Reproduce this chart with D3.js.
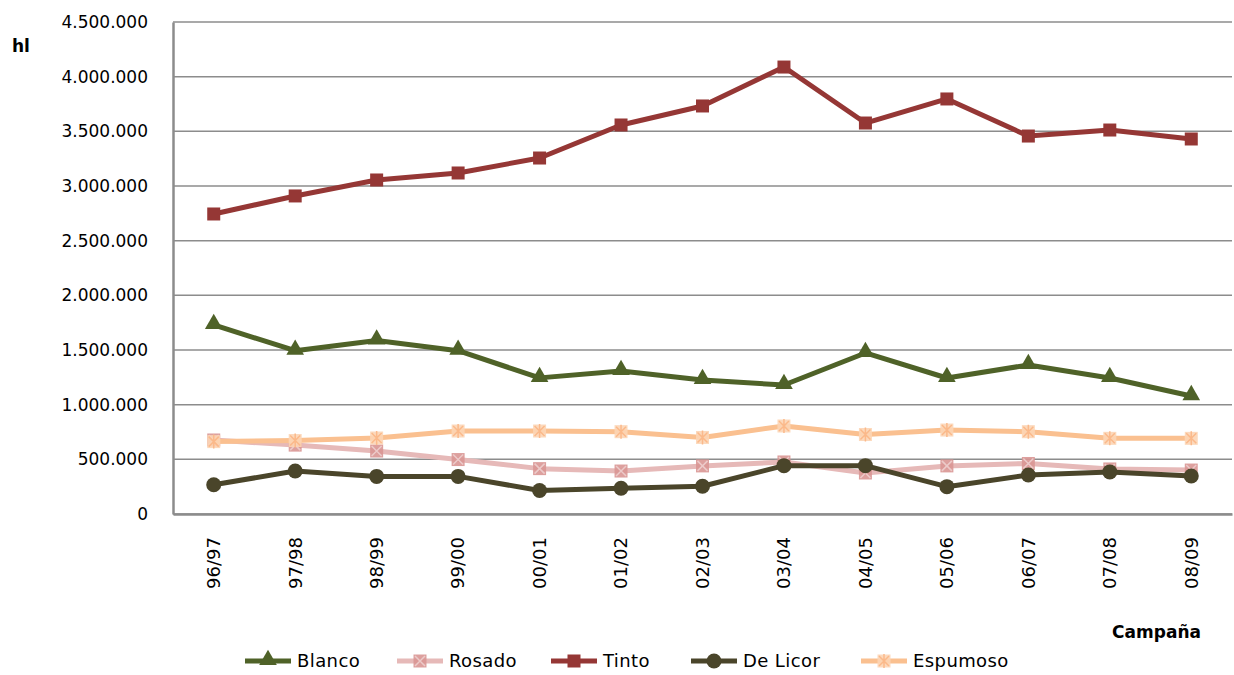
<!DOCTYPE html>
<meta charset="utf-8">
<style>
body{ margin:0; background:#fff; font-family:"DejaVu Sans", Verdana, sans-serif; }
.grid line{ stroke:#8c8c8c; stroke-width:1.5; }
.tick text{ font-size:17px; fill:#000; font-family:"DejaVu Sans", Verdana, sans-serif; }
</style>
<div id="chart"></div>
<script src="https://cdn.jsdelivr.net/npm/d3@7"></script>
<script>

var campaigns = ['96/97','97/98','98/99','99/00','00/01','01/02','02/03','03/04','04/05','05/06','06/07','07/08','08/09']
var blanco   = [1729000,1494000,1587000,1494000,1245000,1308000,1226000,1180000,1473000,1244000,1363000,1244000,1079000]
var rosado   = [677000,630000,576000,498000,415000,393000,440000,476000,375000,440000,462000,412000,402000]
var tinto    = [2744000,2909000,3055000,3119000,3256000,3558000,3732000,4088000,3576000,3796000,3457000,3512000,3430000]
var deLicor  = [268000,393000,344000,344000,215000,235000,254000,442000,442000,250000,357000,385000,348000]
var espumoso = [662000,672000,695000,759000,759000,753000,700000,805000,727000,768000,753000,692000,692000]
var yTicks = [0,500000,1000000,1500000,2000000,2500000,3000000,3500000,4000000,4500000]

var series = [
  {name:'Blanco',   values:blanco,   line:'#4f6228', marker:'triangle'},
  {name:'Rosado',   values:rosado,   line:'#e6b9b8', marker:'sqx', fill:'#d99694'},
  {name:'Tinto',    values:tinto,    line:'#953735', marker:'square'},
  {name:'De Licor', values:deLicor,  line:'#4a452a', marker:'circle'},
  {name:'Espumoso', values:espumoso, line:'#fac090', marker:'star', fill:'#fcd5b5'}
]

var W = 1234, H = 675
var pLeft = 173, pRight = 1232, pTop = 22, pBottom = 514

var svg = d3.select('#chart').append('svg')
    .attr('width', W).attr('height', H)

var x = d3.scaleBand().domain(campaigns).range([pLeft, pRight])
var y = d3.scaleLinear().domain([0, 4500000]).range([pBottom, pTop])
var fmt = function(d){ return d3.format(',')(d).replace(/,/g, '.') }

// gridlines
svg.append('g').attr('class', 'grid')
  .selectAll('line').data(yTicks).join('line')
    .attr('x1', pLeft).attr('x2', pRight)
    .attr('y1', d => y(d)).attr('y2', d => y(d))

// y axis
var yAxis = svg.append('g')
    .attr('transform', 'translate(' + pLeft + ',0)')
    .call(d3.axisLeft(y).tickValues(yTicks).tickFormat(fmt).tickSize(0).tickPadding(25))
yAxis.select('.domain').attr('stroke', '#8c8c8c').attr('stroke-width', 2.5)

// x axis
var xAxis = svg.append('g')
    .attr('transform', 'translate(0,' + pBottom + ')')
    .call(d3.axisBottom(x).tickSize(0))
xAxis.select('.domain').attr('stroke', '#8c8c8c').attr('stroke-width', 2.5)
xAxis.selectAll('.tick text')
    .attr('transform', 'rotate(-90)')
    .attr('text-anchor', 'end')
    .attr('x', -23).attr('y', 0).attr('dy', '0.35em')
    .style('font-size', '18px')

svg.append('text').text('hl')
    .attr('x', 12).attr('y', 52)
    .style('font-weight', 'bold').style('font-size', '17px')
svg.append('text').text('Campaña')
    .attr('x', 1201).attr('y', 638).attr('text-anchor', 'end')
    .style('font-weight', 'bold').style('font-size', '17px')

function drawMarker(g, s, cx, cy){
  if (s.marker == 'triangle'){
    g.append('path').attr('d', d3.symbol(d3.symbolTriangle, 135)())
      .attr('transform', 'translate(' + cx + ',' + (cy - 1) + ')').attr('fill', s.line)
  } else if (s.marker == 'square'){
    g.append('rect').attr('x', cx - 6.5).attr('y', cy - 6.5).attr('width', 13).attr('height', 13)
      .attr('fill', s.line)
  } else if (s.marker == 'circle'){
    g.append('circle').attr('cx', cx).attr('cy', cy).attr('r', 7.5).attr('fill', s.line)
  } else {
    g.append('rect').attr('x', cx - 6.5).attr('y', cy - 6.5).attr('width', 13).attr('height', 13)
      .attr('fill', s.fill).attr('opacity', 0.9)
    var c = s.marker == 'sqx' ? '#eccac9' : '#fbb98a'
    g.append('path')
      .attr('d', 'M' + (cx - 5) + ',' + (cy - 5) + 'L' + (cx + 5) + ',' + (cy + 5) +
                 'M' + (cx + 5) + ',' + (cy - 5) + 'L' + (cx - 5) + ',' + (cy + 5) +
                 (s.marker == 'star' ? 'M' + cx + ',' + (cy - 7) + 'L' + cx + ',' + (cy + 7) : ''))
      .attr('stroke', c).attr('stroke-width', 1.5).attr('fill', 'none')
  }
}

var line = d3.line()
    .x((d, i) => x(campaigns[i]) + x.bandwidth() / 2)
    .y(d => y(d))

// draw order: blanco, rosado, tinto, de licor, espumoso
series.forEach(function(s){
  var g = svg.append('g')
  g.append('path').datum(s.values)
    .attr('d', line).attr('fill', 'none')
    .attr('stroke', s.line).attr('stroke-width', 5).attr('stroke-linejoin', 'round')
  s.values.forEach(function(v, i){
    drawMarker(g, s, x(campaigns[i]) + x.bandwidth() / 2, y(v))
  })
})

// legend
var legendX = [268, 420, 574, 714, 884]
series.forEach(function(s, i){
  var g = svg.append('g')
  var cx = legendX[i], cy = 661
  g.append('line').attr('x1', cx - 23).attr('x2', cx + 23).attr('y1', cy).attr('y2', cy)
    .attr('stroke', s.line).attr('stroke-width', 5)
  drawMarker(g, s, cx, cy)
  g.append('text').text(s.name).attr('x', cx + 29).attr('y', cy).attr('dy', '0.35em')
    .style('font-size', '18px').style('letter-spacing', '0.4px')
})

</script>
